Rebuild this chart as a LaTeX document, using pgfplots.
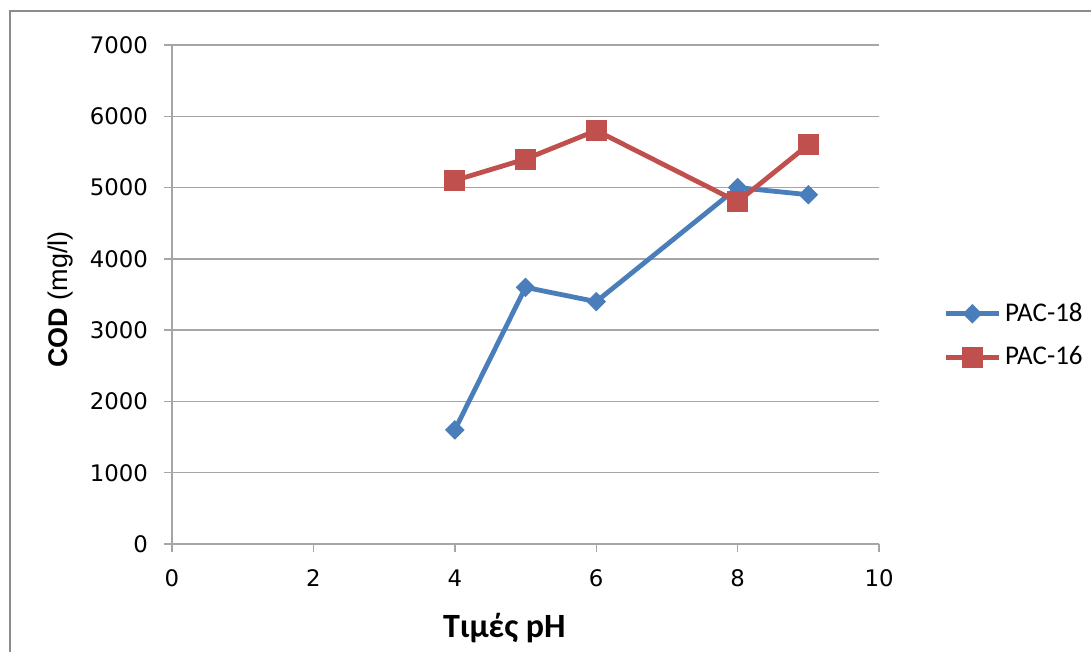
\documentclass[border=0pt]{standalone}
\usepackage{pgfplots}
\pgfplotsset{compat=1.18}
\usepackage{fontspec}
\setmainfont{DejaVu Sans}
\newfontfamily\carlito{Carlito}
\newfontfamily\arial{Liberation Sans}
\definecolor{c18}{HTML}{4A7EBB}
\definecolor{c16}{HTML}{C0504D}
\definecolor{gridc}{HTML}{A6A6A6}
\definecolor{framec}{HTML}{8C8C8C}
\begin{document}
\begin{tikzpicture}
\useasboundingbox (0,0) rectangle (545.5pt,326pt);
\draw[framec, line width=1pt] (5pt,-10pt) rectangle (570pt,320.5pt);
\begin{axis}[
  at={(86pt,54pt)}, anchor=south west,
  scale only axis, width=353.5pt, height=249.5pt,
  xmin=0, xmax=10, ymin=0, ymax=7000,
  xtick={0,2,...,10}, ytick={0,1000,...,7000},
  axis x line*=bottom, axis y line*=left,
  axis line style={gridc, line width=0.7pt, -},
  ymajorgrids, grid style={gridc, line width=0.7pt},
  tick align=outside, major tick length=4pt,
  tick style={gridc, line width=0.7pt},
  /pgf/number format/assume math mode=true,
  scaled y ticks=false,
  yticklabel style={/pgf/number format/1000 sep={}, font=\fontsize{11.4}{13}\selectfont, xshift=-4.5pt},
  xticklabel style={font=\fontsize{11.4}{13}\selectfont, yshift=-5.5pt},
  xlabel={\carlito\bfseries\fontsize{17}{20}\selectfont Τιμές pH},
  ylabel={\arial\fontsize{13.5}{16}\selectfont\textbf{COD} (mg/l)},
  xlabel style={at={(0.47,0)}, anchor=north, yshift=-31pt},
  ylabel style={at={(0,0.49)}, anchor=south, yshift=46pt},
  legend style={at={(1,0.418)}, anchor=west, xshift=29pt, draw=none, fill=none,
    font=\carlito\fontsize{13.5}{16}\selectfont, row sep=7pt,
    /tikz/every even column/.append style={column sep=1pt}},
  legend cell align=left,
  legend image code/.code={
    \draw[mark repeat=2,mark phase=2,#1] plot coordinates {(0pt,0pt) (13.25pt,0pt) (26.5pt,0pt)};
  },
  clip=false,
]
\addplot[c18, line width=2.4pt, mark=square*, mark size=3.2pt, mark options={rotate=45, solid, line width=0.5pt}]
  coordinates {(4,1600) (5,3600) (6,3400) (8,5000) (9,4900)};
\addlegendentry{PAC-18}
\addplot[c16, line width=2.4pt, mark=square*, mark size=5pt, mark options={solid, line width=0.5pt}]
  coordinates {(4,5100) (5,5400) (6,5800) (8,4800) (9,5600)};
\addlegendentry{PAC-16}
\end{axis}
\end{tikzpicture}
\end{document}
